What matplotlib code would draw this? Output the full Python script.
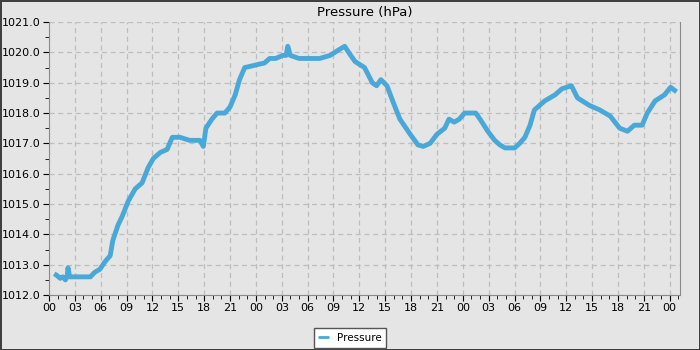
import matplotlib
matplotlib.use("Agg")
import matplotlib.pyplot as plt
from matplotlib.ticker import MultipleLocator, FuncFormatter

# hours since first midnight, pressure in hPa
hours = [
    0.6, 0.9, 1.3, 1.6, 1.9, 2.1, 2.2, 2.4, 3.0, 3.6, 4.2, 4.8, 5.3, 5.9,
    6.5, 7.1, 7.4, 8.0, 8.5, 9.2, 10.0, 10.8, 11.5, 12.1, 12.9, 13.7, 14.3,
    15.2, 16.3, 17.5, 17.9, 18.2, 18.9, 19.5, 20.4, 21.0, 21.6, 22.1, 22.7,
    23.5, 24.2, 25.0, 25.6, 26.3, 27.1, 27.5, 27.7, 28.0, 29.0, 30.0, 31.4,
    32.6, 33.7, 34.3, 35.0, 35.5, 36.6, 37.5, 38.0, 38.5, 39.2, 40.0, 40.7,
    41.9, 42.8, 43.4, 44.2, 45.0, 45.9, 46.4, 47.0, 47.6, 48.2, 49.5, 50.0,
    50.9, 51.7, 52.3, 52.9, 54.0, 54.6, 55.2, 55.8, 56.3, 57.5, 58.7, 59.5,
    60.6, 61.3, 62.7, 63.9, 65.1, 66.2, 67.1, 67.9, 68.8, 69.4, 70.3, 71.4,
    72.1, 72.8,
]
pressure = [
    1012.7, 1012.65, 1012.55, 1012.6, 1012.5, 1012.6, 1012.9, 1012.6, 1012.6,
    1012.6, 1012.6, 1012.6, 1012.75, 1012.85, 1013.1, 1013.3, 1013.8, 1014.3,
    1014.6, 1015.1, 1015.5, 1015.7, 1016.2, 1016.5, 1016.7, 1016.8, 1017.2,
    1017.2, 1017.1, 1017.1, 1016.9, 1017.5, 1017.8, 1018.0, 1018.0, 1018.2,
    1018.6, 1019.1, 1019.5, 1019.55, 1019.6, 1019.65, 1019.8, 1019.8, 1019.9,
    1019.9, 1020.2, 1019.9, 1019.8, 1019.8, 1019.8, 1019.9, 1020.1, 1020.2,
    1019.9, 1019.7, 1019.5, 1019.0, 1018.9, 1019.1, 1018.9, 1018.3, 1017.8,
    1017.3, 1016.95, 1016.9, 1017.0, 1017.3, 1017.5, 1017.8, 1017.7, 1017.8,
    1018.0, 1018.0, 1017.8, 1017.4, 1017.1, 1016.95, 1016.85, 1016.85, 1017.0,
    1017.2, 1017.6, 1018.1, 1018.4, 1018.6, 1018.8, 1018.9, 1018.5, 1018.25,
    1018.1, 1017.9, 1017.5, 1017.4, 1017.6, 1017.6, 1018.0, 1018.4, 1018.6,
    1018.85, 1018.7,
]

bg = "#e5e5e5"
fig = plt.figure(figsize=(7, 3.5), dpi=100, facecolor=bg,
                 edgecolor="#404040", linewidth=2)
ax = fig.add_axes([0.07, 0.157, 0.901, 0.78], facecolor=bg)

ax.plot(hours, pressure, color="#4aa8d8", lw=3.5, label="Pressure",
        solid_joinstyle="round", solid_capstyle="butt")

ax.set_xlim(0, 73.16)
ax.set_ylim(1012, 1021)
ax.xaxis.set_major_locator(MultipleLocator(3))
ax.xaxis.set_minor_locator(MultipleLocator(1))
ax.xaxis.set_major_formatter(FuncFormatter(lambda v, p: "%02d" % (int(round(v)) % 24)))
ax.yaxis.set_major_locator(MultipleLocator(1))
ax.yaxis.set_minor_locator(MultipleLocator(0.5))
ax.yaxis.set_major_formatter(FuncFormatter(lambda v, p: "%.1f" % v))

ax.grid(True, which="major", color="#bdbdbd", linestyle=(0, (4, 3)), lw=0.9)
ax.tick_params(which="both", direction="out", color="#000000", labelsize=8,
               pad=2)
ax.tick_params(which="major", length=4)
ax.tick_params(which="minor", length=3)
for side in ["left", "bottom", "right"]:
    ax.spines[side].set_color("#8a8a8a")
ax.spines["top"].set_visible(False)

ax.set_title("Pressure (hPa)", fontsize=9.5, pad=4)

leg = fig.legend(loc="lower center", bbox_to_anchor=(0.5, -0.008), fontsize=7.5,
                 fancybox=False, framealpha=1, edgecolor="#555555",
                 handlelength=1.0, borderpad=0.45)
leg.get_lines()[0].set_linewidth(2)

fig.savefig("out.png", dpi=100, facecolor=bg, edgecolor="#404040")
